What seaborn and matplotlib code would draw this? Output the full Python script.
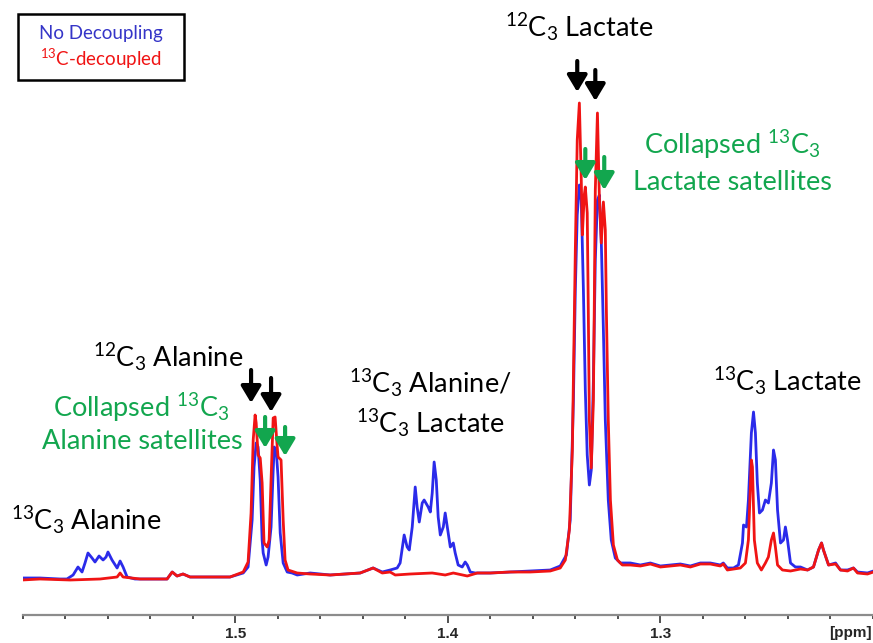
import numpy as np
import pandas as pd
import seaborn as sns
import matplotlib.pyplot as plt
from matplotlib.patches import Rectangle
from matplotlib.ticker import FixedLocator, MultipleLocator, FormatStrFormatter

sns.set_theme(style="white")
plt.rcParams["font.family"] = ["Lato", "DejaVu Sans"]
plt.rcParams["mathtext.fontset"] = "custom"
plt.rcParams["mathtext.rm"] = "Lato"
plt.rcParams["mathtext.it"] = "Lato:italic"
plt.rcParams["mathtext.bf"] = "Lato:bold"

# --- 1H spectrum without 13C decoupling (chemical shift in ppm, intensity in a.u.) ---
blue_ppm = [
    1.6002, 1.5918, 1.5824, 1.5791, 1.5762, 1.5739, 1.5720, 1.5706, 1.5692, 1.5673,
    1.5659, 1.5640, 1.5621, 1.5607, 1.5598, 1.5579, 1.5555, 1.5541, 1.5527, 1.5508,
    1.5471, 1.5400, 1.5320, 1.5296, 1.5273, 1.5245, 1.5212, 1.5165, 1.5094, 1.5024,
    1.4962, 1.4939, 1.4920, 1.4911, 1.4901, 1.4892, 1.4882, 1.4873, 1.4868, 1.4854,
    1.4845, 1.4831, 1.4821, 1.4816, 1.4807, 1.4798, 1.4788, 1.4774, 1.4755, 1.4732,
    1.4708, 1.4647, 1.4553, 1.4482, 1.4412, 1.4351, 1.4308, 1.4271, 1.4238, 1.4224,
    1.4205, 1.4191, 1.4181, 1.4167, 1.4153, 1.4144, 1.4134, 1.4120, 1.4111, 1.4092,
    1.4082, 1.4073, 1.4064, 1.4054, 1.4045, 1.4035, 1.4021, 1.4012, 1.4002, 1.3988,
    1.3974, 1.3965, 1.3951, 1.3932, 1.3918, 1.3908, 1.3894, 1.3871, 1.3800, 1.3706,
    1.3612, 1.3518,
    1.3471, 1.3442, 1.3424, 1.3409, 1.3400, 1.3391, 1.3381, 1.3372, 1.3362, 1.3353,
    1.3344, 1.3334, 1.3325, 1.3315, 1.3306, 1.3296, 1.3287, 1.3278, 1.3268, 1.3259,
    1.3245, 1.3231, 1.3212, 1.3188, 1.3141,
    1.3094, 1.3047, 1.3000, 1.2953, 1.2906, 1.2859, 1.2812, 1.2765, 1.2718, 1.2704,
    1.2685, 1.2656, 1.2633, 1.2614, 1.2609, 1.2595, 1.2586, 1.2572, 1.2562, 1.2553,
    1.2544, 1.2534, 1.2520, 1.2506, 1.2492, 1.2478, 1.2468, 1.2459, 1.2449, 1.2435,
    1.2421, 1.2412, 1.2402, 1.2388, 1.2365, 1.2341, 1.2308, 1.2280, 1.2256, 1.2242,
    1.2233, 1.2209, 1.2176, 1.2153, 1.2120, 1.2092, 1.2073, 1.2026, 1.1998,
]
blue_int = [
    0, 0, -1, -1, 3, 11, 6, 15, 25, 20,
    16, 22, 18, 21, 26, 18, 10, 17, 11, 1,
    -1, -1, -1, 6, 2, 4, 1, 1, 1, 1,
    5, 11, 58, 111, 135, 131, 98, 38, 25, 13,
    21, 51, 108, 131, 128, 101, 45, 15, 6, 5,
    3, 5, 3, 4, 5, 10, 6, 8, 10, 15,
    43, 31, 28, 51, 91, 71, 56, 75, 78, 71,
    66, 85, 116, 98, 61, 43, 51, 65, 51, 31,
    35, 25, 13, 11, 16, 13, 6, 5, 5, 6,
    7, 8,
    12, 23, 58, 178, 288, 363, 393, 378, 288, 188,
    123, 93, 108, 198, 318, 378, 383, 338, 248, 158,
    78, 38, 20, 15, 15,
    13, 15, 12, 13, 14, 12, 15, 15, 13, 15,
    10, 10, 13, 35, 53, 51, 78, 145, 166, 145,
    95, 65, 68, 78, 75, 95, 128, 118, 68, 35,
    38, 51, 38, 15, 11, 11, 8, 11, 28, 35,
    28, 13, 15, 8, 8, 10, 6, 5, 7,
]

# --- 1H spectrum with 13C decoupling ---
red_ppm = [
    1.6002, 1.5918, 1.5776, 1.5635, 1.5555, 1.5541, 1.5527, 1.5447, 1.5320, 1.5296,
    1.5273, 1.5245, 1.5212, 1.5094, 1.5024, 1.4962, 1.4939, 1.4925, 1.4915, 1.4906,
    1.4901, 1.4892, 1.4882, 1.4873, 1.4864, 1.4849, 1.4840, 1.4831, 1.4821, 1.4812,
    1.4802, 1.4798, 1.4784, 1.4774, 1.4765, 1.4751, 1.4708, 1.4647, 1.4553, 1.4482,
    1.4412, 1.4351, 1.4308, 1.4271, 1.4247, 1.4176, 1.4073, 1.4012, 1.3974, 1.3908,
    1.3861, 1.3800, 1.3706, 1.3612, 1.3518,
    1.3471, 1.3447, 1.3428, 1.3414, 1.3400, 1.3391, 1.3381, 1.3372, 1.3367, 1.3358,
    1.3353, 1.3344, 1.3339, 1.3334, 1.3325, 1.3315, 1.3311, 1.3306, 1.3296, 1.3287,
    1.3278, 1.3268, 1.3259, 1.3254, 1.3245, 1.3235, 1.3221, 1.3202, 1.3179, 1.3141,
    1.3094, 1.3047, 1.3000, 1.2953, 1.2906, 1.2859, 1.2812, 1.2765, 1.2718, 1.2704,
    1.2685, 1.2624, 1.2600, 1.2586, 1.2572, 1.2567, 1.2558, 1.2544, 1.2525, 1.2506,
    1.2492, 1.2478, 1.2468, 1.2459, 1.2449, 1.2426, 1.2388, 1.2341, 1.2308, 1.2280,
    1.2256, 1.2242, 1.2233, 1.2209, 1.2176, 1.2153, 1.2120, 1.2092, 1.2073, 1.2026,
    1.1998,
]
red_int = [
    -2, -1, -2, -1, 1, 5, 1, -1, -1, 6,
    2, 4, 1, 1, 1, 6, 16, 65, 138, 163,
    155, 123, 120, 95, 35, 31, 38, 98, 160, 161,
    131, 121, 118, 58, 18, 8, 5, 4, 3, 4,
    5, 10, 5, 6, 3, 4, 5, 3, 5, 2,
    5, 5, 6, 6, 7,
    10, 18, 48, 128, 328, 438, 475, 398, 343, 383,
    391, 365, 268, 158, 110, 178, 268, 388, 465, 381,
    335, 376, 348, 268, 158, 78, 33, 18, 13, 13,
    12, 14, 11, 12, 13, 11, 14, 14, 12, 14,
    8, 10, 15, 38, 118, 111, 38, 15, 8, 15,
    21, 38, 45, 31, 13, 8, 7, 9, 8, 11,
    28, 35, 28, 13, 14, 8, 7, 10, 5, 4,
    6,
]

series_names = ["No Decoupling", "$\\mathregular{^{13}}$C-decoupled"]
series_colors = ["#2b2bea", "#f01414"]
legend_colors = ["#3535c8", "#f01414"]
green = "#12a64e"

major_ticks = [1.5, 1.4, 1.3]

spectra = pd.concat([
    pd.DataFrame({"ppm": blue_ppm, "intensity": blue_int, "spectrum": series_names[0]}),
    pd.DataFrame({"ppm": red_ppm, "intensity": red_int, "spectrum": series_names[1]}),
])

fig = plt.figure(figsize=(8.73, 6.43), dpi=100)
ax = fig.add_axes([22.5 / 873, 28 / 643, 850.5 / 873, 615 / 643])
ax.set_facecolor("none")

sns.lineplot(data=spectra, x="ppm", y="intensity", hue="spectrum",
             hue_order=series_names, palette=series_colors, estimator=None,
             linewidth=2.0, legend=False, ax=ax)

ax.set_xlim(1.6, 1.2)
ax.set_ylim(-37, 578)
ax.set_xlabel("")
ax.set_ylabel("")
ax.set_yticks([])
for side in ("left", "right", "top"):
    ax.spines[side].set_visible(False)
ax.spines["bottom"].set_color("#8c8c8c")
ax.spines["bottom"].set_linewidth(1.6)

ax.xaxis.set_major_locator(FixedLocator(major_ticks))
ax.xaxis.set_minor_locator(MultipleLocator(0.02))
ax.xaxis.set_major_formatter(FormatStrFormatter("%.1f"))
ax.tick_params(axis="x", which="major", bottom=True, length=5.5, width=1.1,
               color="#222222", pad=3.0, labelsize=11)
ax.tick_params(axis="x", which="minor", bottom=True, length=3.2, width=1.1,
               color="#222222")
for lbl in ax.get_xticklabels():
    lbl.set_fontfamily(["Liberation Sans", "DejaVu Sans"])
    lbl.set_fontweight("bold")
fig.text(850 / 873, 1 - 633 / 643, "[ppm]", ha="center", va="center",
         fontsize=11, fontweight="bold", family=["Liberation Sans", "DejaVu Sans"])

# peak annotations
label_size = 19.5
texts = [
    (1.3381, 541, "$\\mathregular{^{12}C_3}$ Lactate", "black"),
    (1.2661, 424, "Collapsed $\\mathregular{^{13}C_3}$", green),
    (1.2661, 388, "Lactate satellites", green),
    (1.5315, 211, "$\\mathregular{^{12}C_3}$ Alanine", "black"),
    (1.5442, 161, "Collapsed $\\mathregular{^{13}C_3}$", green),
    (1.5438, 129, "Alanine satellites", green),
    (1.4082, 185, "$\\mathregular{^{13}C_3}$ Alanine/", "black"),
    (1.4082, 145, "$\\mathregular{^{13}C_3}$ Lactate", "black"),
    (1.2402, 187, "$\\mathregular{^{13}C_3}$ Lactate", "black"),
    (1.5701, 48, "$\\mathregular{^{13}C_3}$ Alanine", "black"),
]
for x, y, s, c in texts:
    ax.text(x, y, s, ha="center", va="baseline", fontsize=label_size, color=c)

# arrows: (ppm, tail intensity, tip intensity, colour)
arrows = [
    (1.3391, 517, 486, "black"),
    (1.3306, 508, 477, "black"),
    (1.3353, 429, 398, green),
    (1.3264, 421, 388, green),
    (1.4925, 208, 175, "black"),
    (1.4831, 200, 166, "black"),
    (1.4859, 161, 130, green),
    (1.4765, 151, 122, green),
]
for x, y0, y1, c in arrows:
    ax.annotate("", xy=(x, y1), xytext=(x, y0),
                arrowprops=dict(arrowstyle="-|>,head_length=0.5,head_width=0.3",
                                color=c, lw=3.0, shrinkA=0, shrinkB=0,
                                mutation_scale=20))

# legend box
fig.patches.append(Rectangle((18 / 873, 1 - 80 / 643), 166 / 873, 66 / 643,
                             transform=fig.transFigure, fill=False,
                             edgecolor="black", linewidth=1.8))
fig.text(101 / 873, 1 - 34 / 643, series_names[0], ha="center", va="center",
         fontsize=13.5, color=legend_colors[0])
fig.text(101 / 873, 1 - 59 / 643, series_names[1], ha="center", va="center",
         fontsize=13.5, color=legend_colors[1])

fig.savefig("out.png", dpi=100)
